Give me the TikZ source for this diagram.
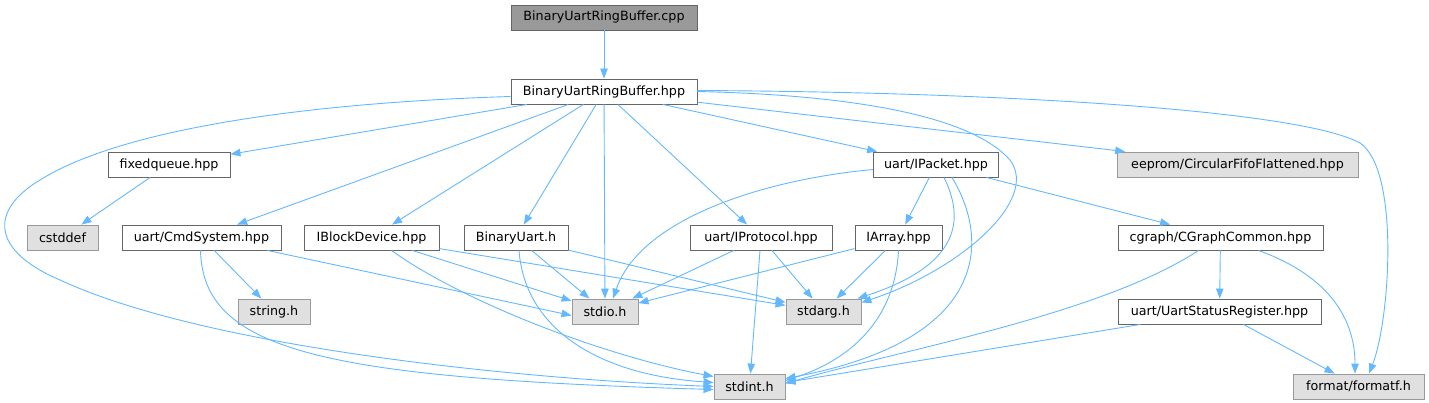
\documentclass[tikz,border=0pt]{standalone}
\usepackage{fontspec}
\setmainfont{DejaVu Sans}
\usetikzlibrary{arrows.meta,positioning,calc}
\definecolor{edgeblue}{HTML}{63B8FF}
\definecolor{boxline}{HTML}{666666}
\definecolor{sysfill}{HTML}{E0E0E0}
\definecolor{sysline}{HTML}{999999}
\tikzset{
  incfile/.style={draw=boxline,line width=0.9pt,fill=white,minimum height=25pt,inner sep=0pt,
    font=\fontsize{12.7}{14}\selectfont},
  sysfile/.style={incfile,draw=sysline,fill=sysfill},
  srcfile/.style={incfile,fill=sysline},
  dep/.style={draw=edgeblue,line width=0.9pt,-{Triangle[length=10pt,width=7.5pt]}}
}
\begin{document}
\begin{tikzpicture}[x=1pt,y=-1pt]
  \useasboundingbox (0,0) rectangle (1429,403);
  \node[srcfile,minimum width=186pt] (cpp) at (604,17.5) {BinaryUartRingBuffer.cpp};
  \node[incfile,minimum width=186pt] (hpp) at (604,91.5) {BinaryUartRingBuffer.hpp};
  \node[incfile,minimum width=122pt] (fixedqueue) at (169,164.5) {fixedqueue.hpp};
  \node[incfile,minimum width=125pt] (ipacket) at (936,164.5) {uart/IPacket.hpp};
  \node[sysfile,minimum width=241pt] (eeprom) at (1237.5,164.5) {eeprom/CircularFifoFlattened.hpp};
  \node[sysfile,minimum width=71pt] (cstddef) at (62.5,237.5) {cstddef};
  \node[incfile,minimum width=159pt] (cmdsystem) at (201.5,237.5) {uart/CmdSystem.hpp};
  \node[incfile,minimum width=135pt] (blockdev) at (371.5,237.5) {IBlockDevice.hpp};
  \node[incfile,minimum width=104pt] (binuart) at (516,237.5) {BinaryUart.h};
  \node[incfile,minimum width=142pt] (iprotocol) at (761,237.5) {uart/IProtocol.hpp};
  \node[incfile,minimum width=87pt] (iarray) at (898.5,237.5) {IArray.hpp};
  \node[incfile,minimum width=205pt] (cgraph) at (1220.5,237.5) {cgraph/CGraphCommon.hpp};
  \node[sysfile,minimum width=72pt] (stringh) at (274,311.5) {string.h};
  \node[sysfile,minimum width=66pt] (stdio) at (605,311.5) {stdio.h};
  \node[sysfile,minimum width=75pt] (stdarg) at (823.5,311.5) {stdarg.h};
  \node[incfile,minimum width=203pt] (uartstatus) at (1219.5,311.5) {uart/UartStatusRegister.hpp};
  \node[sysfile,minimum width=71pt] (stdint) at (749.5,386.5) {stdint.h};
  \node[sysfile,minimum width=131pt] (formatf) at (1358.5,386.5) {format/formatf.h};

  \draw[dep] (cpp) -- (hpp);
  \draw[dep] ([yshift=-5pt]hpp.west) .. controls (300,103) and (120,130) .. (40,180)
    .. controls (-10,210) and (-10,250) .. (60,280) .. controls (200,345) and (500,378) .. (stdint.west);
  \draw[dep] (hpp) -- (fixedqueue);
  \draw[dep] (hpp) -- (cmdsystem);
  \draw[dep] (hpp) -- (blockdev);
  \draw[dep] (hpp) -- (binuart);
  \draw[dep] (hpp) -- (stdio);
  \draw[dep] (hpp) -- (iprotocol);
  \draw[dep] (hpp) -- (ipacket);
  \draw[dep] (hpp) -- (eeprom);
  \draw[dep] (hpp.east) .. controls (850,95) and (970,115) .. (1010,160)
    .. controls (1040,200) and (960,270) .. ([yshift=-4pt]stdarg.north east);
  \draw[dep] ([yshift=1pt]hpp.east) .. controls (1000,92) and (1300,110) .. (1360,143)
    .. controls (1400,170) and (1390,320) .. ([xshift=10.5pt]formatf.north);
  \draw[dep] (fixedqueue) -- (cstddef);
  \draw[dep] (cmdsystem) -- (stringh);
  \draw[dep] ([xshift=-14pt]cmdsystem.south east) -- ([yshift=-4pt]stdio.west);
  \draw[dep] ([xshift=-1pt]cmdsystem.south) .. controls (203,350) and (320,378) .. ([yshift=-3pt]stdint.west);
  \draw[dep] (blockdev) -- (stdio);
  \draw[dep] (blockdev) -- (stdarg);
  \draw[dep] ([xshift=20pt]blockdev.south) .. controls (460,300) and (600,355) .. ([yshift=10pt]stdint.west);
  \draw[dep] (binuart) -- (stdio);
  \draw[dep] (binuart) -- (stdarg);
  \draw[dep] ([xshift=3pt]binuart.south) .. controls (525,330) and (600,375) .. ([yshift=4pt]stdint.west);
  \draw[dep] ([yshift=-5pt]ipacket.west) .. controls (760,180) and (640,220) .. ([xshift=8pt]stdio.north);
  \draw[dep] (ipacket) -- (iarray);
  \draw[dep] ([xshift=8pt]ipacket.south) .. controls (965,220) and (960,265) .. ([xshift=-4pt]stdarg.north east);
  \draw[dep] ([xshift=16pt]ipacket.south) .. controls (990,240) and (990,340) .. ([yshift=8pt]stdint.east);
  \draw[dep] (ipacket) -- (cgraph);
  \draw[dep] (iprotocol) -- (stdio);
  \draw[dep] (iprotocol) -- (stdarg);
  \draw[dep] (iprotocol) -- (stdint);
  \draw[dep] (iarray) -- (stdio);
  \draw[dep] (iarray) -- (stdarg);
  \draw[dep] (iarray.south) .. controls (895,320) and (850,360) .. ([yshift=6pt]stdint.east);
  \draw[dep] (cgraph) -- (uartstatus);
  \draw[dep] ([xshift=-22pt]cgraph.south) .. controls (1100,315) and (900,350) .. ([yshift=3pt]stdint.east);
  \draw[dep] ([xshift=38pt]cgraph.south) .. controls (1340,280) and (1355,330) .. ([xshift=-3.5pt]formatf.north);
  \draw[dep] (uartstatus) -- ([yshift=4pt]stdint.east);
  \draw[dep] (uartstatus) -- (formatf);
\end{tikzpicture}
\end{document}
